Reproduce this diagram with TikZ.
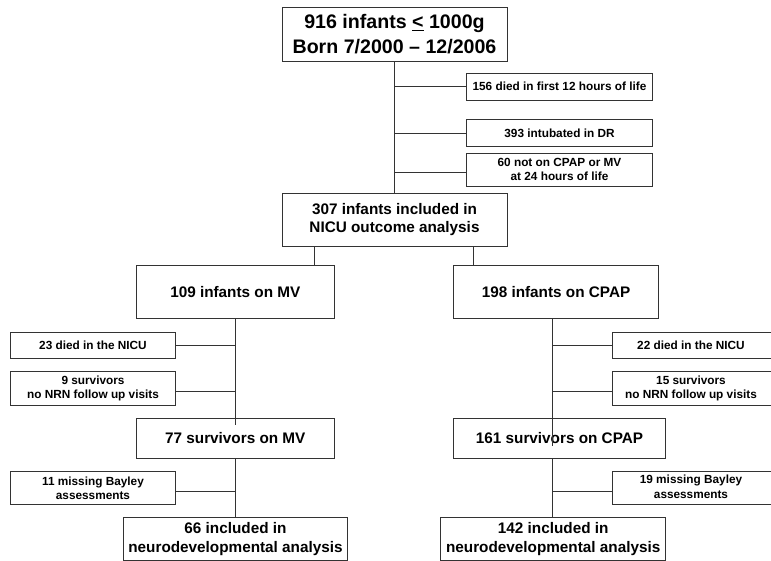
\documentclass[tikz,border=0pt]{standalone}
\usepackage{fontspec}
\setmainfont{Liberation Sans}
\usetikzlibrary{calc}
\tikzset{
 box/.style={draw=black!80, line width=0.9pt, inner sep=0pt, align=center},
 big/.style={box, font=\bfseries\fontsize{19.6}{24.3}\selectfont},
 mainbox/.style={box, font=\bfseries\fontsize{15.3}{18.7}\selectfont},
 smallbox/.style={box, font=\bfseries\fontsize{11.8}{14.3}\selectfont},
 link/.style={draw=black!80, line width=0.9pt},
}
\begin{document}
\begin{tikzpicture}[x=1pt,y=-1pt]
\useasboundingbox (0,0) rectangle (771,561);
% top part
\node[big, minimum width=225, minimum height=54] (top) at (394.5,34) {916 infants \underline{<} 1000g\\Born 7/2000 -- 12/2006};
\node[smallbox, minimum width=185.6, minimum height=26.7] (d156) at (559.5,86.7) {156 died in first 12 hours of life};
\node[smallbox, minimum width=185.6, minimum height=26.7] (d393) at (559.5,133.3) {393 intubated in DR};
\node[smallbox, minimum width=185.6, minimum height=32.7] (d60) at (559.5,169.7) {60 not on CPAP or MV\\at 24 hours of life};
\node[mainbox, minimum width=225, minimum height=53] (n307) at (394.5,219.5) {307 infants included in\\NICU outcome analysis};
% branches
\node[mainbox, minimum width=198.7, minimum height=53] (mv) at (235.3,292.2) {109 infants on MV};
\node[mainbox, minimum width=205.4, minimum height=53] (cpap) at (556,292.2) {198 infants on CPAP};
% left column
\node[smallbox, minimum width=165.4, minimum height=26.4] (d23) at (93,345.5) {23 died in the NICU};
\node[smallbox, minimum width=165.4, minimum height=33.3] (s9) at (93,388.3) {9 survivors\\no NRN follow up visits};
\node[mainbox, minimum width=198.7, minimum height=40] (s77) at (235.3,438.3) {77 survivors on MV};
\node[smallbox, minimum width=165.4, minimum height=32.6] (m11) at (93,488) {11 missing Bayley\\assessments};
\node[mainbox, minimum width=224.4, minimum height=42.7] (i66) at (235.5,538.7) {66 included in\\neurodevelopmental analysis};
% right column
\node[smallbox, minimum width=170, minimum height=26.4] (d22) at (697,345.5) {\hspace*{-12pt}22 died in the NICU};
\node[smallbox, minimum width=170, minimum height=33.3] (s15) at (697,388.3) {\hspace*{-12pt}\begin{tabular}{@{}c@{}}15 survivors\\no NRN follow up visits\end{tabular}};
\node[mainbox, minimum width=212.4, minimum height=40] (s161) at (559.5,438.3) {161 survivors on CPAP};
\node[smallbox, minimum width=170, minimum height=32.6] (m19) at (697,488) {\hspace*{-12pt}\begin{tabular}{@{}c@{}}19 missing Bayley\\assessments\end{tabular}};
\node[mainbox, minimum width=225, minimum height=42.7] (i142) at (553.2,538.7) {142 included in\\neurodevelopmental analysis};
% trunk coordinates
\coordinate (ct) at (394.4,0);
\coordinate (jm) at (314.7,0);
\coordinate (jc) at (473.3,0);
\coordinate (lt) at (235.3,0);
\coordinate (rt) at (552.7,0);
% connectors top
\draw[link] (top.south -| ct) -- (n307.north -| ct);
\draw[link] (d156.west) -- (d156.west -| ct);
\draw[link] (d393.west) -- (d393.west -| ct);
\draw[link] ($(d60.west)+(0,3)$) -- ($(d60.west -| ct)+(0,3)$);
\draw[link] (n307.south -| jm) -- (mv.north -| jm);
\draw[link] (n307.south -| jc) -- (cpap.north -| jc);
% left connectors
\draw[link] (mv.south -| lt) -- ($(s77.north -| lt)+(0,7)$);
\draw[link] (d23.east) -- (d23.east -| lt);
\draw[link] ($(s9.east)+(0,3.4)$) -- ($(s9.east -| lt)+(0,3.4)$);
\draw[link] (s77.south -| lt) -- (i66.north -| lt);
\draw[link] ($(m11.east)+(0,3.7)$) -- ($(m11.east -| lt)+(0,3.7)$);
% right connectors
\draw[link] (cpap.south -| rt) -- ($(s161.north -| rt)+(0,28)$);
\draw[link] (d22.west) -- (d22.west -| rt);
\draw[link] ($(s15.west)+(0,3.4)$) -- ($(s15.west -| rt)+(0,3.4)$);
\draw[link] (s161.south -| rt) -- (i142.north -| rt);
\draw[link] ($(m19.west)+(0,3.7)$) -- ($(m19.west -| rt)+(0,3.7)$);
\end{tikzpicture}
\end{document}
